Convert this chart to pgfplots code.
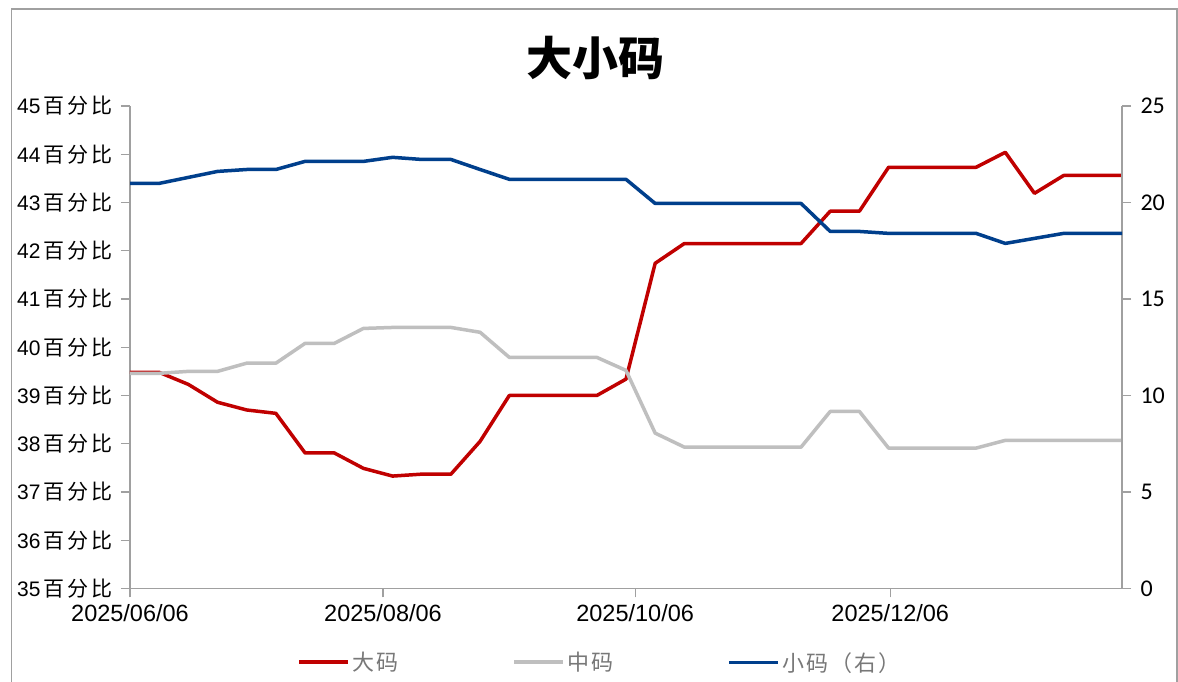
\documentclass[border=0pt]{standalone}
\usepackage{pgfplots}
\pgfplotsset{compat=1.18}
\usepackage{pgfplotstable}
\usepackage{fontspec}
\setmainfont{Liberation Sans}
\newfontfamily\cjk{Noto Sans CJK SC}
\newfontfamily\cjksp{Noto Sans CJK SC}[LetterSpace=10]
\newfontfamily\cjkspw{Noto Sans CJK SC}[LetterSpace=14]
\newfontfamily\carlito{Carlito}
\definecolor{cred}{RGB}{192,0,0}
\definecolor{cgray}{RGB}{191,191,191}
\definecolor{cblue}{RGB}{0,63,140}
\definecolor{axgray}{RGB}{160,160,160}
\definecolor{leggray}{RGB}{120,120,120}
\pgfplotstableread{
x big mid small
0 39.48 39.46 20.99
7 39.48 39.46 20.99
14 39.23 39.50 21.30
21 38.86 39.50 21.61
28 38.70 39.67 21.71
35 38.63 39.67 21.71
42 37.81 40.08 22.13
49 37.81 40.08 22.13
56 37.49 40.39 22.13
63 37.33 40.41 22.34
70 37.37 40.41 22.23
77 37.37 40.41 22.23
84 38.05 40.31 21.71
91 39.00 39.79 21.20
98 39.00 39.79 21.20
105 39.00 39.79 21.20
112 39.00 39.79 21.20
119 39.34 39.52 21.20
126 41.74 38.22 19.95
133 42.15 37.93 19.95
140 42.15 37.93 19.95
147 42.15 37.93 19.95
154 42.15 37.93 19.95
161 42.15 37.93 19.95
168 42.82 38.67 18.50
175 42.82 38.67 18.50
182 43.73 37.91 18.40
189 43.73 37.91 18.40
196 43.73 37.91 18.40
203 43.73 37.91 18.40
210 44.04 38.07 17.88
217 43.19 38.07 18.14
224 43.56 38.07 18.40
231 43.56 38.07 18.40
238 43.56 38.07 18.40
}\datatable
\newcommand\pct[1]{#1\hspace{3pt}{\cjkspw 百分比}}
\begin{document}
\begin{tikzpicture}
\useasboundingbox (0,0) rectangle (1178pt,682pt);
\fill[white] (0,0) rectangle (1178pt,682pt);
\draw[axgray, line width=1.3pt] (11.5pt,-5pt) -- (11.5pt,673pt) -- (1177pt,673pt) -- (1177pt,-5pt);
\node[font=\cjk\bfseries\fontsize{46}{50}\selectfont] at (595pt,624pt) {大小码};
\pgfplotsset{
  base/.style={
    at={(130pt,93.5pt)}, anchor=south west,
    scale only axis, width=992pt, height=482.5pt,
    xmin=0, xmax=238,
    axis line style={axgray, line width=1.3pt},
    tick style={axgray, line width=1.3pt},
    major tick length=9pt,
    tick align=outside,
    clip=false,
  }
}
\begin{axis}[base,
  axis x line*=bottom, axis y line*=left,
  ymin=35, ymax=45,
  ytick={35,36,...,45},
  yticklabels={\pct{35},\pct{36},\pct{37},\pct{38},\pct{39},\pct{40},\pct{41},\pct{42},\pct{43},\pct{44},\pct{45}},
  yticklabel style={font=\fontsize{21}{23}\selectfont, xshift=-5pt},
  xtick={0,60.7,121.2,182.4},
  xticklabels={2025/06/06,2025/08/06,2025/10/06,2025/12/06},
  xticklabel style={font=\fontsize{23.5}{26}\selectfont, yshift=-3pt},
]
\addplot[cred, line width=3.5pt, line join=round] table[x=x,y=big] {\datatable};
\addplot[cgray, line width=3.5pt, line join=round] table[x=x,y=mid] {\datatable};
\end{axis}
\begin{axis}[base,
  axis x line=none, axis y line*=right,
  ymin=0, ymax=25,
  ytick={0,5,...,25},
  /pgf/number format/assume math mode=true,
  yticklabel style={font=\carlito\fontsize{24}{26}\selectfont, xshift=6pt},
  legend columns=3,
  legend style={draw=none, fill=none, at={(0.1683,-0.1532)}, anchor=west,
    font=\cjksp\fontsize{22}{24}\selectfont, text=leggray, inner sep=0pt,
    /tikz/every even column/.append style={column sep=112pt}},
  legend image code/.code={\draw[#1] (0pt,0pt) -- (49pt,0pt);},
]
\addlegendimage{cred, line width=4pt}
\addlegendentry{大码}
\addlegendimage{cgray, line width=4pt}
\addlegendentry{中码}
\addplot[cblue, line width=3.5pt, line join=round] table[x=x,y=small] {\datatable};
\addlegendentry{小码（右）}
\end{axis}
\end{tikzpicture}
\end{document}
